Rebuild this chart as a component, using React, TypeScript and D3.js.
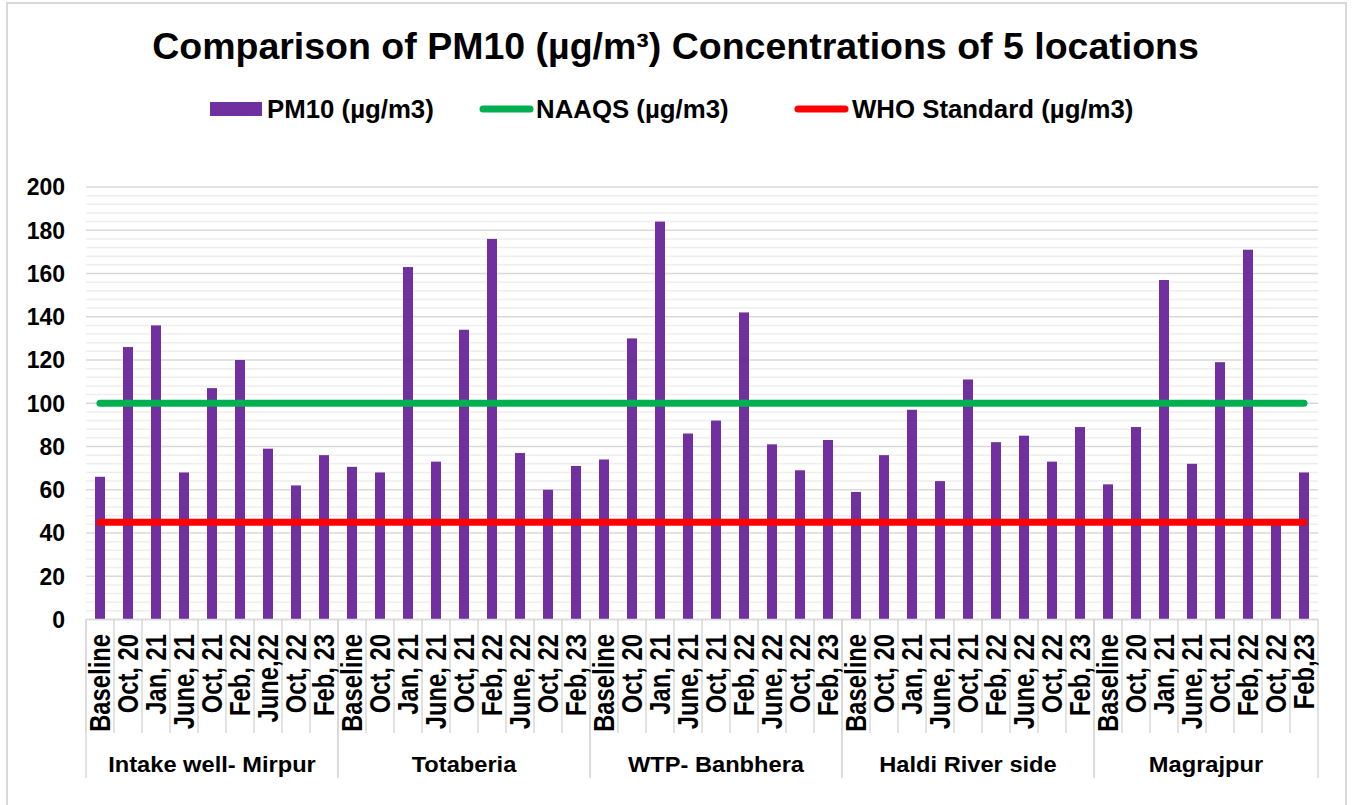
import React from 'react';
import * as d3 from 'd3';

const groups = ['Intake well- Mirpur', 'Totaberia', 'WTP- Banbhera', 'Haldi River side', 'Magrajpur'];

const periodsIntake = ['Baseline', 'Oct, 20', 'Jan, 21', 'June, 21', 'Oct, 21', 'Feb, 22', 'June,22', 'Oct, 22', 'Feb, 23'];
const periodsStd = ['Baseline', 'Oct, 20', 'Jan, 21', 'June, 21', 'Oct, 21', 'Feb, 22', 'June, 22', 'Oct, 22', 'Feb, 23'];
const periodsMagrajpur = ['Baseline', 'Oct, 20', 'Jan, 21', 'June, 21', 'Oct, 21', 'Feb, 22', 'Oct, 22', 'Feb,23'];

const pmIntake = [66, 126, 136, 68, 107, 120, 79, 62, 76];
const pmTotaberia = [70.6, 68, 163, 73, 134, 176, 77, 60, 71];
const pmWtp = [74, 130, 184, 86, 92, 142, 81, 69, 83];
const pmHaldi = [59, 76, 97, 64, 111, 82, 85, 73, 89];
const pmMagrajpur = [62.5, 89, 157, 72, 119, 171, 44, 68];

const naaqs = 100;
const who = 45;

const yTicks = [0, 20, 40, 60, 80, 100, 120, 140, 160, 180, 200];

const groupPeriods = [periodsIntake, periodsStd, periodsStd, periodsStd, periodsMagrajpur];
const groupValues = [pmIntake, pmTotaberia, pmWtp, pmHaldi, pmMagrajpur];

const rows = groups.flatMap((g, gi) =>
  groupPeriods[gi].map((p, pi) => ({ group: g, gi, period: p, value: groupValues[gi][pi] }))
);
rows.forEach((r, i) => ((r as any).key = String(i)));

const W = 1352;
const H = 805;
const FONT = '"Liberation Sans", Arial, sans-serif';
const PURPLE = '#7030a0';
const GREEN = '#00b050';
const RED = '#ff0000';
const GRID = '#d9d9d9';

export default function App() {
  const plot = { left: 86, right: 1318, top: 187, bottom: 619.5 };

  const x = d3
    .scaleBand()
    .domain(rows.map((r: any) => r.key))
    .range([plot.left, plot.right])
    .paddingInner(0)
    .paddingOuter(0);
  const y = d3.scaleLinear().domain([0, 200]).range([plot.bottom, plot.top]);

  const barW = 10;
  const cx = (k: string) => (x(k) as number) + x.bandwidth() / 2;

  const minorTicks = d3.range(0, 201, 4).filter((v) => v % 20 !== 0);

  const refLine = (v: number) =>
    d3.line<any>()
      .x((r) => cx(r.key))
      .y(() => y(v))([rows[0], rows[rows.length - 1]]) as string;

  // group extents
  const groupSpans = groups.map((g, gi) => {
    const rs = rows.filter((r) => r.gi === gi) as any[];
    const x0 = x(rs[0].key) as number;
    const x1 = (x(rs[rs.length - 1].key) as number) + x.bandwidth();
    return { g, x0, x1 };
  });

  return (
    <div style={{ position: 'absolute', left: 0, top: 0 }}>
      <svg width={W} height={H} style={{ display: 'block', background: '#fff' }} fontFamily={FONT}>
        <rect x={7} y={3} width={1339} height={H + 10} fill="#fff" stroke={GRID} strokeWidth={2} />

        <text x={675.5} y={59} textAnchor="middle" fontSize={37.5} fontWeight="bold" fill="#000">
          Comparison of PM10 (µg/m³) Concentrations of 5 locations
        </text>

        {/* legend */}
        <g fontSize={25.8} fontWeight="bold" fill="#000">
          <rect x={210} y={102} width={52} height={14} fill={PURPLE} />
          <text x={267} y={118}>PM10 (µg/m3)</text>
          <line x1={483} x2={530} y1={109} y2={109} stroke={GREEN} strokeWidth={7} strokeLinecap="round" />
          <text x={536} y={118}>NAAQS (µg/m3)</text>
          <line x1={798} x2={845} y1={109} y2={109} stroke={RED} strokeWidth={7} strokeLinecap="round" />
          <text x={852} y={118}>WHO Standard (µg/m3)</text>
        </g>

        {/* grid */}
        {minorTicks.map((v) => (
          <line key={'m' + v} x1={plot.left} x2={plot.right} y1={y(v)} y2={y(v)} stroke="#eeeeee" strokeWidth={1.5} />
        ))}
        {yTicks.map((v) => (
          <line key={'g' + v} x1={plot.left} x2={plot.right} y1={y(v)} y2={y(v)} stroke={GRID} strokeWidth={1.5} />
        ))}

        {/* y tick labels */}
        {yTicks.map((v) => (
          <text key={'t' + v} x={65} y={y(v)} dy="0.36em" textAnchor="end" fontSize={23} fontWeight="bold" fill="#000">
            {v}
          </text>
        ))}

        {/* bars */}
        {rows.map((r: any) => (
          <rect key={'b' + r.key} x={cx(r.key) - barW / 2} y={y(r.value)} width={barW} height={y(0) - y(r.value)} fill={PURPLE} />
        ))}

        {/* reference lines */}
        <path d={refLine(naaqs)} stroke={GREEN} strokeWidth={7} strokeLinecap="round" fill="none" />
        <path d={refLine(who)} stroke={RED} strokeWidth={7} strokeLinecap="round" fill="none" />

        {/* category axis */}
        <line x1={plot.left} x2={plot.right} y1={y(0)} y2={y(0)} stroke={GRID} strokeWidth={1.5} />
        {rows.map((r: any) => (
          <line key={'s' + r.key} x1={x(r.key)} x2={x(r.key)} y1={y(0)} y2={733} stroke={GRID} strokeWidth={1.5} />
        ))}
        {groupSpans.map((s) => (
          <g key={'gs' + s.g}>
            <line x1={s.x0} x2={s.x0} y1={y(0)} y2={778} stroke={GRID} strokeWidth={1.5} />
            <line x1={s.x1} x2={s.x1} y1={y(0)} y2={778} stroke={GRID} strokeWidth={1.5} />
          </g>
        ))}
        {rows.map((r: any) => (
          <text
            key={'c' + r.key}
            transform={`translate(${cx(r.key)},634) rotate(-90) scale(1,1.2)`}
            dy="0.36em"
            textAnchor="end"
            fontSize={23.8}
            fontWeight="bold"
            fill="#000"
          >
            {r.period}
          </text>
        ))}
        {groupSpans.map((s) => (
          <text
            key={'gl' + s.g}
            transform={`translate(${(s.x0 + s.x1) / 2},772) scale(1.1,1)`}
            textAnchor="middle"
            fontSize={21.5}
            fontWeight="bold"
            fill="#000"
          >
            {s.g}
          </text>
        ))}
      </svg>
    </div>
  );
}
